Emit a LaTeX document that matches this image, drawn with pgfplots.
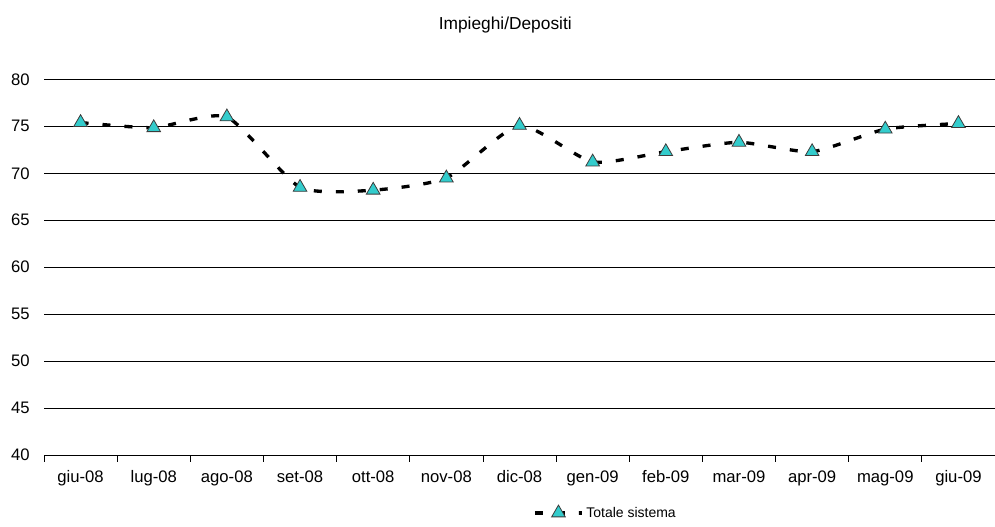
\documentclass[border=0pt]{standalone}
\usepackage{fontspec}
\setmainfont{Liberation Sans}
\usepackage{pgfplots}
\pgfplotsset{compat=1.18}
\definecolor{tealm}{RGB}{51,204,204}
\definecolor{markedge}{RGB}{60,60,60}
\begin{document}
\begin{tikzpicture}
\begin{axis}[
  name=ax,
  scale only axis,
  width=713.25pt, height=281.8pt,
  xmin=-0.5, xmax=12.5,
  ymin=40, ymax=80,
  ytick={40,45,...,80},
  xtick={0,...,12},
  xticklabels={giu-08,lug-08,ago-08,set-08,ott-08,nov-08,dic-08,gen-09,feb-09,mar-09,apr-09,mag-09,giu-09},
  minor xtick={-0.5,0.5,...,12.5},
  major x tick style={draw=none},
  minor x tick style={black, line width=0.6pt},
  minor tick length=5pt,
  tick align=outside,
  axis lines*=left,
  y axis line style={draw=none},
  ytick style={draw=none},
  x axis line style={black, line width=0.75pt},
  ymajorgrids,
  grid style={black, line width=0.6pt},
  /pgf/number format/assume math mode=true,
  tick label style={font=\fontsize{12.5}{14}\selectfont},
  xticklabel style={yshift=-4pt},
  yticklabel style={xshift=-3pt},
  title={Impieghi/Depositi},
  title style={font=\fontsize{13}{15}\selectfont, at={(0.485,1)}, anchor=center, yshift=35pt},
  legend style={draw=none, fill=none, at={(0.51,-0.154)}, anchor=west, font=\fontsize{10.5}{12}\selectfont, legend cell align=left},
  legend image code/.code={\draw[mark repeat=2, mark phase=2, #1] plot coordinates {(0cm,0cm) (0.62cm,0cm) (1.24cm,0cm)};},
  clip=false,
]
\addplot[black, line width=2.5pt, dash pattern=on 6pt off 10.5pt, smooth, tension=0.35,
  mark=triangle*, mark size=5.9pt,
  mark options={solid, fill=tealm, draw=markedge, line width=0.6pt}]
  coordinates {
  (0,75.4) (1,74.85) (2,76.0) (3,68.5) (4,68.2) (5,69.5) (6,75.1)
  (7,71.2) (8,72.3) (9,73.3) (10,72.3) (11,74.7) (12,75.3)
  };
\addlegendentry{Totale sistema}
\end{axis}
\pgfresetboundingbox
\path ([shift={(-33pt,-53.25pt)}]ax.south west) rectangle ([shift={(0pt,59.5pt)}]ax.north east);
\end{tikzpicture}
\end{document}
